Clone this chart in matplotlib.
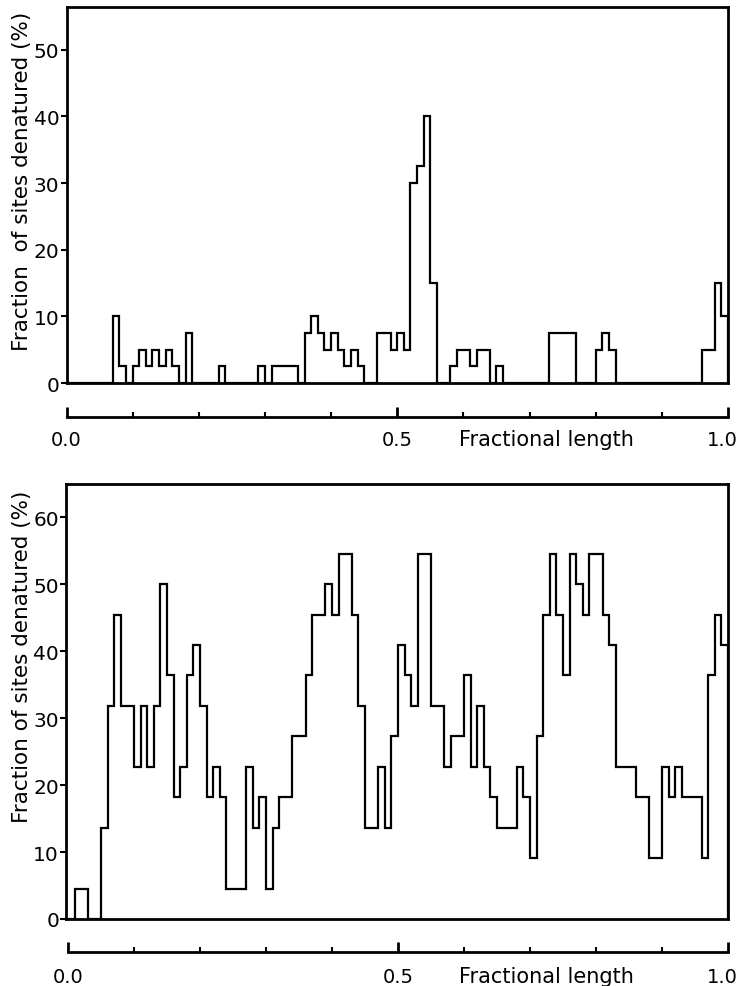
import matplotlib
matplotlib.use('Agg')
import matplotlib.pyplot as plt
from matplotlib.transforms import ScaledTranslation
import numpy as np

# fraction of sites denatured (%) in each 0.01 bin of fractional length
bin_width = 0.01

# upper panel (steps of 2.5 %)
top_values = [0, 0, 0, 0, 0, 0, 0, 10, 2.5, 0,
              2.5, 5, 2.5, 5, 2.5, 5, 2.5, 0, 7.5, 0,
              0, 0, 0, 2.5, 0, 0, 0, 0, 0, 2.5,
              0, 2.5, 2.5, 2.5, 2.5, 0, 7.5, 10, 7.5, 5,
              7.5, 5, 2.5, 5, 2.5, 0, 0, 7.5, 7.5, 5,
              7.5, 5, 30, 32.5, 40, 15, 0, 0, 2.5, 5,
              5, 2.5, 5, 5, 0, 2.5, 0, 0, 0, 0,
              0, 0, 0, 7.5, 7.5, 7.5, 7.5, 0, 0, 0,
              5, 7.5, 5, 0, 0, 0, 0, 0, 0, 0,
              0, 0, 0, 0, 0, 0, 5, 5, 15, 10]

# lower panel (steps of ~4.5 %)
bottom_values = [0, 4.5, 4.5, 0, 0, 13.6, 31.8, 45.5, 31.8, 31.8,
                 22.7, 31.8, 22.7, 31.8, 50.0, 36.4, 18.2, 22.7, 36.4, 40.9,
                 31.8, 18.2, 22.7, 18.2, 4.5, 4.5, 4.5, 22.7, 13.6, 18.2,
                 4.5, 13.6, 18.2, 18.2, 27.3, 27.3, 36.4, 45.5, 45.5, 50.0,
                 45.5, 54.5, 54.5, 45.5, 31.8, 13.6, 13.6, 22.7, 13.6, 27.3,
                 40.9, 36.4, 31.8, 54.5, 54.5, 31.8, 31.8, 22.7, 27.3, 27.3,
                 36.4, 22.7, 31.8, 22.7, 18.2, 13.6, 13.6, 13.6, 22.7, 18.2,
                 9.1, 27.3, 45.5, 54.5, 45.5, 36.4, 54.5, 50.0, 45.5, 54.5,
                 54.5, 45.5, 40.9, 22.7, 22.7, 22.7, 18.2, 18.2, 9.1, 9.1,
                 22.7, 18.2, 22.7, 18.2, 18.2, 18.2, 9.1, 36.4, 45.5, 40.9]

top_yticks = [0, 10, 20, 30, 40, 50]
bottom_yticks = [0, 10, 20, 30, 40, 50, 60]
x_major = [0.0, 0.5, 1.0]
x_labels = ['0.0', '0.5', '1.0']
x_minor = [0.1, 0.2, 0.3, 0.4, 0.6, 0.7, 0.8, 0.9]
ylabel = 'Fraction of sites denatured (%)'
xlabel = 'Fractional length'

plt.rcParams['font.family'] = 'DejaVu Sans'
W, H = 741, 987
fig = plt.figure(figsize=(W / 100, H / 100), dpi=100)


def add_panel(left, right, top, bottom):
    return fig.add_axes([left / W, 1 - bottom / H, (right - left) / W, (bottom - top) / H])


def draw(ax, values, ymax, yticks, x0, drop_px, label_px, tick_pad, ylab, ylab_y):
    edges = np.arange(len(values) + 1) * bin_width
    ax.stairs(values, edges, baseline=0, color='black', lw=1.6)
    ax.set_xlim(x0, 1.0)
    ax.set_ylim(0, ymax)
    ax.axhline(0, color='black', lw=2, clip_on=False)
    for s in ['left', 'top', 'right']:
        ax.spines[s].set_linewidth(2)
    ax.spines['bottom'].set_position(('outward', drop_px * 0.72))
    ax.spines['bottom'].set_linewidth(2)
    ax.spines['bottom'].set_bounds(0, 1)
    ax.set_yticks(yticks)
    ax.tick_params(axis='y', direction='out', length=4, width=1.5, pad=1, labelsize=14.5)
    ax.set_xticks(x_major)
    ax.set_xticklabels(x_labels)
    ax.set_xticks(x_minor, minor=True)
    ax.tick_params(axis='x', which='major', direction='in', length=7, width=2,
                   pad=tick_pad, labelsize=14)
    ax.tick_params(axis='x', which='minor', direction='in', length=3.5, width=1.5)
    # keep the last label inside the picture
    last = ax.get_xticklabels()[-1]
    last.set_transform(last.get_transform() + ScaledTranslation(-4 / 72, 0, fig.dpi_scale_trans))
    ax.annotate(xlabel, xy=(0.593, 0), xycoords='axes fraction',
                xytext=(0, -label_px * 0.72), textcoords='offset points',
                ha='left', va='center', fontsize=15)
    fig.text(22 / W, 1 - ylab_y / H, ylab, rotation=90, ha='center', va='center', fontsize=15.5)


ax1 = add_panel(66.5, 728, 7.5, 384)
draw(ax1, top_values, 56.5, top_yticks, 0.0, 34, 56, 9, 'Fraction  of sites denatured (%)', 181)

ax2 = add_panel(66, 728, 485, 920)
draw(ax2, bottom_values, 65, bottom_yticks, -0.003, 33, 57, 11, ylabel, 657)

plt.savefig('out.png', dpi=100, facecolor='white')
